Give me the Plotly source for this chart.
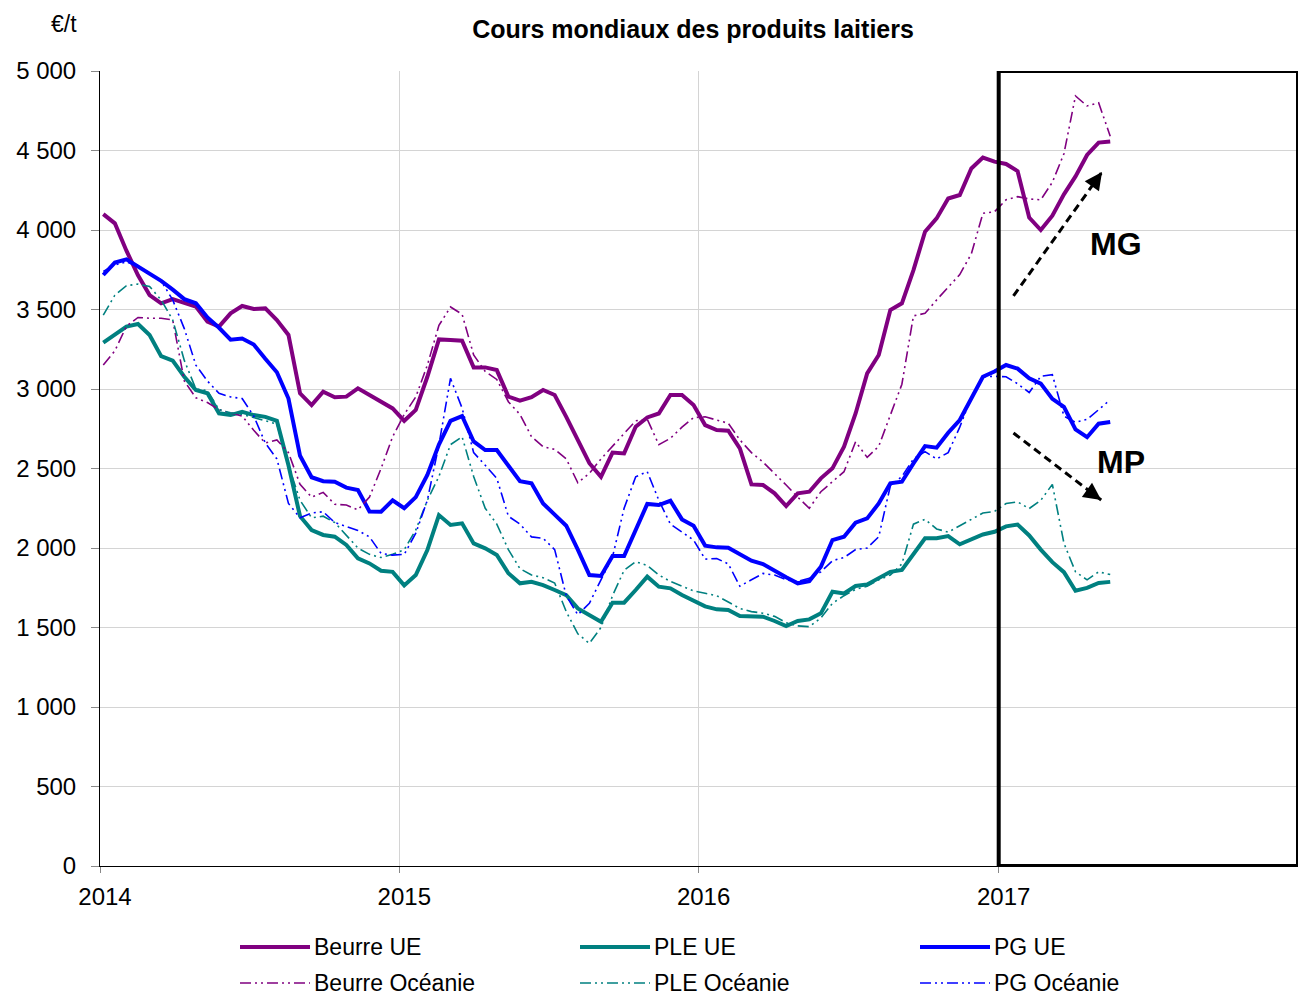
import pandas as pd
import plotly.graph_objects as go

# ---------------- data (biweekly points) ----------------
dates = pd.date_range("2014-01-05", "2017-05-17", periods=88)

beurre_ue = [4100, 4042, 3870, 3715, 3591, 3539, 3566, 3539, 3518, 3423,
             3392, 3476, 3522, 3503, 3507, 3434, 3340, 2973, 2899, 2983,
             2948, 2952, 3004, 2962, 2920, 2878, 2800, 2868, 3077, 3312,
             3308, 3304, 3136, 3136, 3119, 2952, 2927, 2948, 2994, 2962,
             2825, 2679, 2533, 2448, 2600, 2595, 2763, 2821, 2846, 2962,
             2962, 2899, 2773, 2742, 2738, 2627, 2400, 2396, 2344, 2264,
             2344, 2354, 2438, 2501, 2637, 2846, 3098, 3214, 3497, 3539,
             3748, 3989, 4073, 4198, 4220, 4387, 4456, 4430, 4415, 4370,
             4078, 4000, 4090, 4224, 4337, 4472, 4550, 4557]

beurre_oc = [3151, 3240, 3395, 3450, 3445, 3445, 3434, 3050, 2945, 2915,
             2870, 2850, 2830, 2740, 2660, 2680, 2600, 2400, 2320, 2350,
             2275, 2270, 2240, 2320, 2500, 2700, 2840, 2950, 3150, 3400,
             3516, 3470, 3214, 3110, 3060, 2920, 2840, 2700, 2637, 2620,
             2560, 2410, 2470, 2560, 2640, 2720, 2800, 2810, 2650, 2690,
             2760, 2820, 2825, 2805, 2784, 2680, 2600, 2540, 2470, 2396,
             2320, 2250, 2354, 2420, 2480, 2668, 2570, 2640, 2830, 3030,
             3460, 3476, 3560, 3640, 3720, 3850, 4105, 4115, 4190, 4210,
             4195, 4190, 4300, 4480, 4843, 4780, 4800, 4590]

ple_ue = [3291, 3340, 3392, 3409, 3340, 3207, 3178, 3077, 2994, 2973,
          2847, 2836, 2857, 2836, 2825, 2800, 2520, 2200, 2113, 2082,
          2071, 2019, 1935, 1903, 1857, 1850, 1765, 1830, 1987, 2207,
          2145, 2155, 2029, 1998, 1956, 1841, 1778, 1788, 1767, 1736,
          1704, 1620, 1579, 1536, 1656, 1656, 1736, 1820, 1757, 1746,
          1704, 1668, 1633, 1614, 1610, 1572, 1572, 1568, 1541, 1509,
          1541, 1551, 1589, 1725, 1714, 1761, 1771, 1813, 1850, 1862,
          1960, 2061, 2061, 2075, 2023, 2055, 2085, 2102, 2136, 2147,
          2079, 1990, 1911, 1848, 1731, 1749, 1780, 1787]

ple_oc = [3465, 3590, 3650, 3660, 3645, 3560, 3434, 3180, 3000, 2990,
          2870, 2850, 2840, 2820, 2800, 2780, 2520, 2300, 2190, 2200,
          2160, 2080, 2000, 1960, 1940, 1960, 1990, 2113, 2300, 2450,
          2650, 2700, 2450, 2250, 2150, 1990, 1870, 1830, 1813, 1780,
          1600, 1460, 1400, 1500, 1700, 1860, 1914, 1890, 1830, 1790,
          1760, 1730, 1715, 1700, 1660, 1620, 1600, 1590, 1570, 1530,
          1510, 1505, 1560, 1652, 1700, 1740, 1760, 1800, 1830, 1900,
          2150, 2180, 2120, 2100, 2140, 2180, 2220, 2230, 2280, 2290,
          2248, 2300, 2400, 2030, 1850, 1800, 1850, 1833]

pg_ue = [3717, 3795, 3815, 3770, 3731, 3680, 3625, 3565, 3539, 3450,
         3385, 3310, 3318, 3280, 3190, 3105, 2940, 2580, 2445, 2420,
         2417, 2380, 2364, 2230, 2228, 2300, 2250, 2320, 2460, 2650,
         2800, 2830, 2670, 2616, 2616, 2515, 2420, 2407, 2280, 2210,
         2140, 1990, 1830, 1824, 1950, 1950, 2113, 2277, 2270, 2297,
         2180, 2140, 2015, 2004, 2002, 1960, 1920, 1899, 1856, 1816,
         1778, 1792, 1882, 2050, 2071, 2159, 2186, 2280, 2407, 2417,
         2532, 2641, 2631, 2725, 2805, 2941, 3077, 3110, 3151, 3128,
         3068, 3034, 2938, 2888, 2746, 2697, 2782, 2793]

pg_oc = [3740, 3780, 3800, 3770, 3730, 3680, 3560, 3380, 3150, 3050,
         2973, 2950, 2940, 2830, 2660, 2560, 2280, 2190, 2220, 2228,
         2160, 2134, 2110, 2070, 1966, 1955, 1960, 2093, 2300, 2650,
         3067, 2880, 2600, 2520, 2438, 2200, 2150, 2070, 2061, 1990,
         1700, 1580, 1652, 1800, 1945, 2250, 2448, 2480, 2300, 2150,
         2102, 2050, 1930, 1934, 1900, 1760, 1800, 1840, 1830, 1800,
         1790, 1809, 1850, 1920, 1940, 1990, 2000, 2071, 2390, 2450,
         2560, 2606, 2560, 2600, 2760, 2950, 3077, 3080, 3077, 3033,
         2978, 3080, 3090, 2830, 2790, 2809, 2870, 2932]

series_names = ["Beurre UE", "PLE UE", "PG UE",
                "Beurre Océanie", "PLE Océanie", "PG Océanie"]
series_values = [beurre_ue, ple_ue, pg_ue, beurre_oc, ple_oc, pg_oc]
y_ticks = list(range(0, 5001, 500))

# ---------------- styles ----------------
PURPLE, TEAL, BLUE = "#800080", "#008080", "#0000FF"
colors = [PURPLE, TEAL, BLUE, PURPLE, TEAL, BLUE]
THICK, THIN = 4, 1.6
OCE_DASH = "11px,4px,2px,4px,2px,4px"
widths = [THICK, THICK, THICK, THIN, THIN, THIN]
dashes = ["solid", "solid", "solid", OCE_DASH, OCE_DASH, OCE_DASH]
FONT = "Liberation Sans, Arial, sans-serif"
TICK_SIZE = 24

fig = go.Figure()
for name, vals, c, w, d in zip(series_names, series_values, colors, widths, dashes):
    fig.add_trace(go.Scatter(x=dates, y=vals, mode="lines", name=name,
                             line=dict(color=c, width=w, dash=d),
                             showlegend=False))

W, H = 1298, 995
L, R, T, B = 100, 0, 71, 129
pw = W - L - R
ph = H - T - B


def px_to_paper(px, py):
    return (px - L) / pw, (T + ph - py) / ph


fig.update_layout(
    width=W, height=H,
    margin=dict(l=L, r=R, t=T, b=B),
    paper_bgcolor="white", plot_bgcolor="white",
    separators=", ",
    font=dict(family=FONT, size=TICK_SIZE, color="black"),
    title=dict(text="<b>Cours mondiaux des produits laitiers</b>",
               x=693 / W, xref="container", xanchor="center",
               y=1 - 29 / H, yref="container", yanchor="middle",
               font=dict(family=FONT, size=25, color="black")),
)

fig.update_xaxes(
    type="date", range=["2014-01-01", "2018-01-01"],
    tick0="2014-01-01", dtick="M12", tickformat="%Y",
    showgrid=True, gridcolor="#d4d4d4", gridwidth=1,
    showline=True, linecolor="black", linewidth=1,
    ticks="outside", ticklen=6, tickcolor="#888888",
    ticklabelstandoff=3, ticklabelshift=5,
    tickfont=dict(family=FONT, size=TICK_SIZE, color="black"),
    zeroline=False,
)
fig.update_yaxes(
    range=[0, 5000], tickvals=y_ticks, tickformat=",d",
    showgrid=True, gridcolor="#d4d4d4", gridwidth=1,
    showline=True, linecolor="black", linewidth=1,
    ticks="outside", ticklen=8, tickcolor="#888888",
    ticklabelstandoff=10,
    tickfont=dict(family=FONT, size=TICK_SIZE, color="black"),
    zeroline=False,
)

# highlight box over 2017
fig.add_shape(type="rect", xref="x", yref="y",
              x0="2017-01-01", x1="2018-01-01", y0=0, y1=5000,
              line=dict(color="black", width=4), layer="above")

# dashed trend arrows (shaft as dashed line, head as annotation)
arrows = [
    # tail x, tail y, head x, head y, ax, ay
    ("2017-01-19", 3585, "2017-05-07", 4365, -10, 14),
    ("2017-01-19", 2723, "2017-05-06", 2302, -14, -10),
]
for tx, ty, hx, hy, ax, ay in arrows:
    fig.add_shape(type="line", xref="x", yref="y", x0=tx, y0=ty, x1=hx, y1=hy,
                  line=dict(color="black", width=3, dash="8px,5px"), layer="above")
    fig.add_annotation(x=hx, y=hy, xref="x", yref="y", ax=ax, ay=ay,
                       text="", showarrow=True,
                       arrowhead=2, arrowsize=1.4, arrowwidth=2.5, arrowcolor="black")

fig.add_annotation(x="2017-05-24", y=3912, xref="x", yref="y", text="<b>MG</b>",
                   showarrow=False, font=dict(family=FONT, size=32, color="black"))
fig.add_annotation(x="2017-05-30", y=2541, xref="x", yref="y", text="<b>MP</b>",
                   showarrow=False, font=dict(family=FONT, size=32, color="black"))

# unit label (top left)
ux, uy = px_to_paper(64, 24)
fig.add_annotation(x=ux, y=uy, xref="paper", yref="paper",
                   text="€/t", showarrow=False, xanchor="center", yanchor="middle",
                   font=dict(family=FONT, size=23, color="black"))

# custom legend (2 rows x 3 columns) with long line samples
col_px = [240, 580, 920]
row_px = [947, 983]
for i, (name, c, w, d) in enumerate(zip(series_names, colors, widths, dashes)):
    r, k = divmod(i, 3)
    x0, yy = px_to_paper(col_px[k], row_px[r])
    x1, _ = px_to_paper(col_px[k] + 70, row_px[r])
    xt, _ = px_to_paper(col_px[k] + 72, row_px[r])
    fig.add_shape(type="line", xref="paper", yref="paper", x0=x0, x1=x1, y0=yy, y1=yy,
                  line=dict(color=c, width=w, dash=d))
    fig.add_annotation(x=xt, y=yy, xref="paper", yref="paper",
                       text=name, showarrow=False, xanchor="left", yanchor="middle",
                       font=dict(family=FONT, size=23, color="black"))

fig.write_html("out.html",
               config={"displayModeBar": False},
               post_script="document.body.style.margin='0px';"
                           "document.body.style.padding='0px';")
